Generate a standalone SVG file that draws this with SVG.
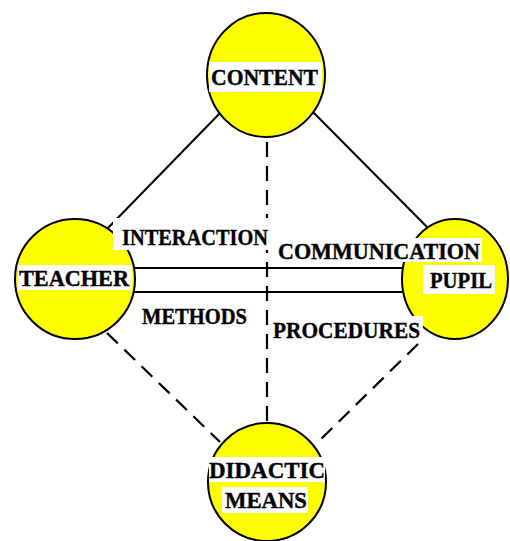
<svg xmlns="http://www.w3.org/2000/svg" width="510" height="541" viewBox="0 0 510 541">
  <style>
    .solid { stroke: #000; stroke-width: 2; fill: none; }
    .dash { stroke: #000; stroke-width: 2.2; fill: none; stroke-dasharray: 15 9; }
    .disc { fill: #ffff00; stroke: #000; stroke-width: 2; }
    .box { fill: #fff; }
    text { font-family: "Liberation Serif", "Times New Roman", serif; font-weight: bold; font-size: 24px; fill: #000; stroke: #000; stroke-width: 0.4; }
  </style>
  <rect width="510" height="541" fill="#fff"/>

  <!-- connectors -->
  <g id="connectors">
    <line class="solid" x1="222" y1="111" x2="108" y2="228"/>
    <line class="solid" x1="311" y1="110" x2="430" y2="230"/>
    <line class="dash" x1="267" y1="142" x2="267" y2="422"/>
    <line class="dash" x1="107" y1="333" x2="220" y2="442"/>
    <line class="dash" x1="418" y1="344" x2="318" y2="442"/>
    <line class="solid" x1="130" y1="268" x2="405" y2="268"/>
    <line class="solid" x1="130" y1="292" x2="405" y2="292"/>
  </g>

  <!-- nodes -->
  <g id="content">
    <ellipse class="disc" cx="266" cy="75" rx="59" ry="62"/>
    <rect class="box" x="209" y="62" width="113" height="30"/>
    <text x="211" y="85" textLength="107" lengthAdjust="spacingAndGlyphs">CONTENT</text>
  </g>
  <g id="teacher">
    <circle class="disc" cx="75" cy="279" r="60"/>
    <rect class="box" x="18" y="265" width="114" height="25"/>
    <text x="19" y="286" textLength="110" lengthAdjust="spacingAndGlyphs">TEACHER</text>
  </g>
  <g id="pupil">
    <ellipse class="disc" cx="455" cy="279" rx="53" ry="60"/>
    <rect class="box" x="423" y="265" width="72" height="29"/>
    <text x="430" y="288" textLength="62" lengthAdjust="spacingAndGlyphs">PUPIL</text>
  </g>
  <g id="means">
    <circle class="disc" cx="267" cy="482" r="59"/>
    <rect class="box" x="209" y="457" width="116" height="25"/>
    <text x="209" y="478" textLength="116" lengthAdjust="spacingAndGlyphs">DIDACTIC</text>
    <rect class="box" x="222" y="487" width="86" height="26"/>
    <text x="225" y="508" textLength="82" lengthAdjust="spacingAndGlyphs">MEANS</text>
  </g>

  <!-- edge labels -->
  <g id="labels">
    <rect class="box" x="113" y="218" width="158" height="32"/>
    <text x="122" y="245" textLength="146" lengthAdjust="spacingAndGlyphs">INTERACTION</text>
    <rect class="box" x="275" y="238" width="207" height="24"/>
    <text x="278" y="259" textLength="202" lengthAdjust="spacingAndGlyphs">COMMUNICATION</text>
    <rect class="box" x="136" y="302" width="116" height="26"/>
    <text x="142" y="324" textLength="105" lengthAdjust="spacingAndGlyphs">METHODS</text>
    <rect class="box" x="270" y="316" width="153" height="25"/>
    <text x="273" y="338" textLength="147" lengthAdjust="spacingAndGlyphs">PROCEDURES</text>
  </g>
</svg>
